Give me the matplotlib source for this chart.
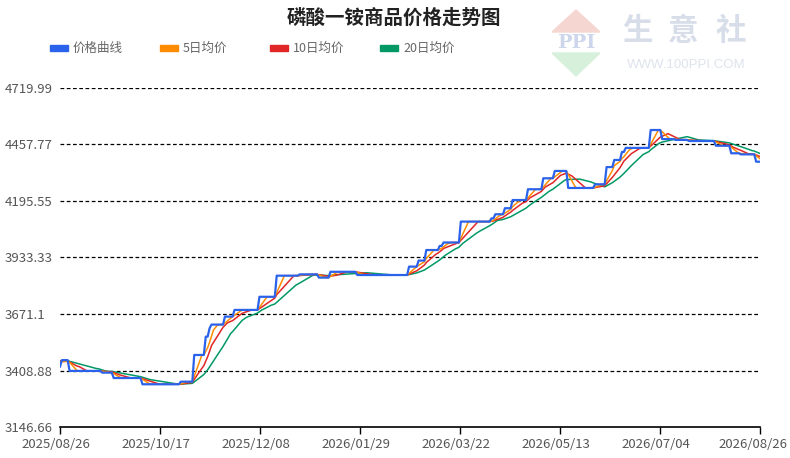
import numpy as np
import pandas as pd
import matplotlib
matplotlib.use('Agg')
import matplotlib.pyplot as plt
from matplotlib.patches import Polygon, Rectangle
from matplotlib.transforms import ScaledTranslation

plt.rcParams['font.family'] = ['Noto Sans CJK SC', 'DejaVu Sans']

# ---------------- data ----------------
title = '磷酸一铵商品价格走势图'
series_names = ['价格曲线', '5日均价', '10日均价', '20日均价']
series_colors = ['#2a62eb', '#ff8c00', '#e02626', '#009966']

start_date = '2025-08-26'
end_date = '2026-08-26'

# day offsets (from start_date) where the price changes, and the new price
change_days = [0, 1, 5, 22, 28, 43, 63, 70, 76, 78, 79, 86, 91, 104, 113,
               125, 135, 141, 155, 182, 187, 191, 198, 200, 209, 225, 227,
               232, 236, 244, 252, 258, 265, 279, 285, 289, 293, 295, 308,
               314, 321, 328, 342, 350, 355, 363]
change_values = [3427, 3457, 3407, 3399, 3374, 3345, 3357, 3481, 3566, 3605,
                 3622, 3659, 3690, 3751, 3849, 3855, 3840, 3867, 3852, 3891,
                 3919, 3968, 3987, 4003, 4100, 4115, 4134, 4162, 4200, 4250,
                 4301, 4335, 4256, 4273, 4353, 4386, 4423, 4442, 4525, 4483,
                 4479, 4474, 4452, 4417, 4412, 4378]
# prices of the 19 days before start_date (feed the moving averages)
history_prices = [3455, 3455, 3455, 3455, 3455, 3455, 3455, 3455, 3455, 3455,
                  3455, 3455, 3455, 3455, 3455, 3455, 3455, 3455, 3455]

y_ticks = [3146.66, 3408.88, 3671.1, 3933.33, 4195.55, 4457.77, 4719.99]
y_tick_labels = ['3146.66', '3408.88', '3671.1', '3933.33', '4195.55', '4457.77', '4719.99']
x_tick_labels = ['2025/08/26', '2025/10/17', '2025/12/08', '2026/01/29',
                 '2026/03/22', '2026/05/13', '2026/07/04', '2026/08/26']

# ---------------- series ----------------
dates = pd.date_range(start_date, end_date, freq='D')
days = np.arange(len(dates))
idx = np.searchsorted(np.array(change_days), days, side='right') - 1
price = np.array(change_values, dtype=float)[idx]
full = pd.Series(np.concatenate([history_prices, price]))
n_hist = len(history_prices)
ma5 = full.rolling(5).mean().values[n_hist:]
ma10 = full.rolling(10).mean().values[n_hist:]
ma20 = full.rolling(20).mean().values[n_hist:]

# ---------------- figure ----------------
W, H = 790, 458
fig = plt.figure(figsize=(W / 100, H / 100), dpi=100)
ax = fig.add_axes([60 / W, (H - 427) / H, 700 / W, (427 - 88) / H])

ax.plot(days, price, color=series_colors[0], lw=1.6, zorder=5)
ax.plot(days, ma5, color=series_colors[1], lw=1.1, zorder=4)
ax.plot(days, ma10, color=series_colors[2], lw=1.1, zorder=3)
ax.plot(days, ma20, color=series_colors[3], lw=1.1, zorder=2)

ax.set_xlim(0, days[-1])
ax.set_ylim(y_ticks[0], y_ticks[-1])
ax.set_yticks(y_ticks)
ax.set_yticklabels(y_tick_labels)
ax.set_xticks(np.linspace(0, days[-1], len(x_tick_labels)))
ax.set_xticklabels(x_tick_labels)

ax.set_facecolor('white')
for s in ['top', 'right', 'left']:
    ax.spines[s].set_visible(False)
ax.spines['bottom'].set_color('black')
ax.spines['bottom'].set_linewidth(1.2)
ax.spines['bottom'].set_zorder(6)

for yv in y_ticks[1:]:
    ax.axhline(yv, color='black', lw=0.9, linestyle=(0, (3, 2)), zorder=1)

ax.tick_params(axis='y', length=0, pad=39.6, labelsize=9.5, labelcolor='#555555')
for lab in ax.get_yticklabels():
    lab.set_horizontalalignment('left')
ax.tick_params(axis='x', direction='out', length=5, width=1, color='black',
               labelsize=9.5, labelcolor='#555555', pad=3)
xlabs = ax.get_xticklabels()
for lab in xlabs[:-1]:
    lab.set_transform(lab.get_transform() + ScaledTranslation(-4 / 100, 0, fig.dpi_scale_trans))
xlabs[-1].set_horizontalalignment('right')
xlabs[-1].set_transform(xlabs[-1].get_transform() + ScaledTranslation(27 / 100, 0, fig.dpi_scale_trans))

# title
fig.text(394 / W, 1 - 18 / H, title, ha='center', va='center',
         fontsize=14, fontweight='bold', color='#222222')

# legend (fixed pitch)
for i, (name, col) in enumerate(zip(series_names, series_colors)):
    x0 = 50 + 110 * i
    fig.patches.append(Rectangle((x0 / W, 1 - 51 / H), 18 / W, 6 / H,
                                 transform=fig.transFigure, color=col))
    fig.text((x0 + 23) / W, 1 - 48 / H, name, ha='left', va='center',
             fontsize=9, color='#666666')

# watermark
fig.patches.append(Polygon([(552 / W, 1 - 32 / H), (600 / W, 1 - 32 / H), (576 / W, 1 - 10 / H)],
                           closed=True, transform=fig.transFigure, color='#f5d6d1', zorder=0))
fig.patches.append(Polygon([(552 / W, 1 - 53 / H), (600 / W, 1 - 53 / H), (576 / W, 1 - 76 / H)],
                           closed=True, transform=fig.transFigure, color='#d6f0db', zorder=0))
fig.text(576 / W, 1 - 42.5 / H, 'PPI', ha='center', va='center', fontsize=14,
         family='DejaVu Serif', fontweight='bold', color='#cdd6ea')
for ch, cx in zip('生意社', [637.5, 683.5, 731]):
    fig.text(cx / W, 1 - 31 / H, ch, ha='center', va='center', fontsize=22,
             fontweight='bold', color='#d8dee9')
fig.text(686 / W, 1 - 65 / H, 'WWW.100PPI.COM', ha='center', va='center',
         fontsize=9.5, family='Liberation Sans', color='#dfe3ec')

fig.savefig('out.png', dpi=100, facecolor='white')
